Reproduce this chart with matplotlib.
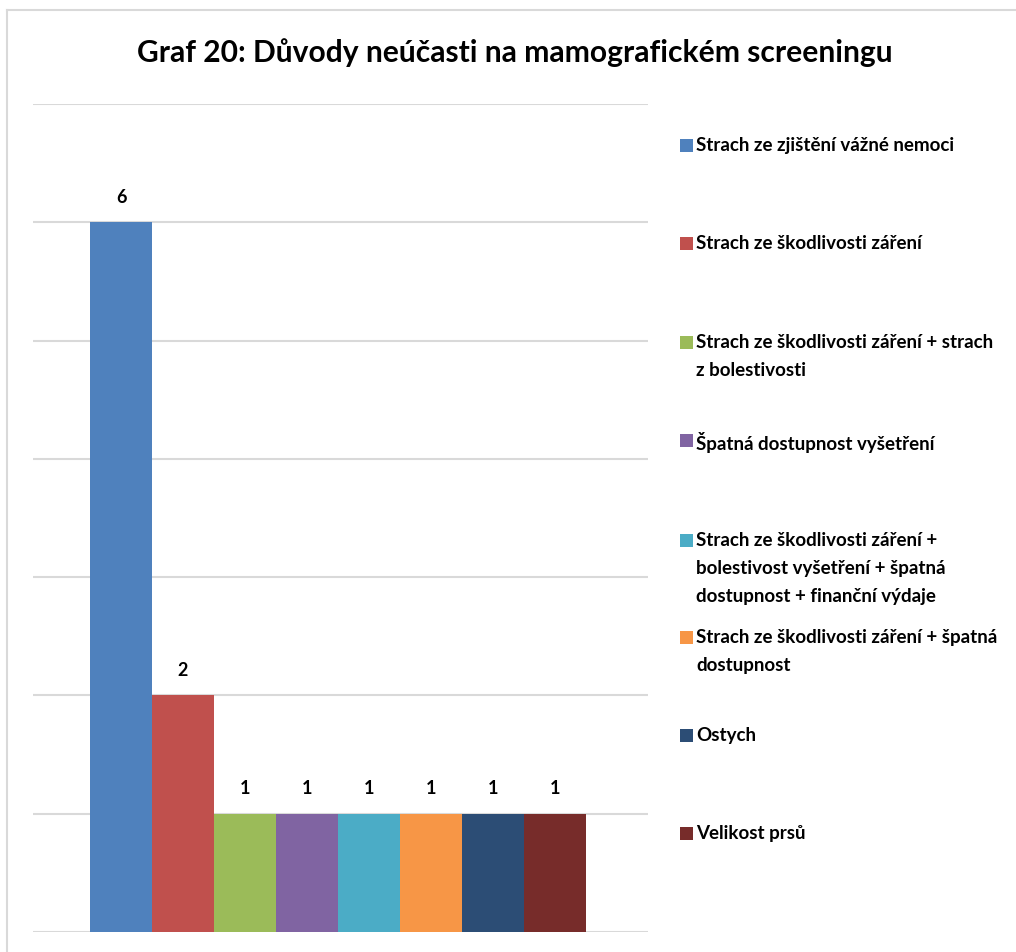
import matplotlib
matplotlib.use("Agg")
import matplotlib.pyplot as plt
from matplotlib.lines import Line2D
from matplotlib.patches import Rectangle

title = "Graf 20: Důvody neúčasti na mamografickém screeningu"
labels = [
    "Strach ze zjištění vážné nemoci",
    "Strach ze škodlivosti záření",
    "Strach ze škodlivosti záření + strach\nz bolestivosti",
    "Špatná dostupnost vyšetření",
    "Strach ze škodlivosti záření +\nbolestivost vyšetření + špatná\ndostupnost + finanční výdaje",
    "Strach ze škodlivosti záření + špatná\ndostupnost",
    "Ostych",
    "Velikost prsů",
]
values = [6, 2, 1, 1, 1, 1, 1, 1]
colors = ["#4F81BD", "#C0504D", "#9BBB59", "#8064A2", "#4BACC6", "#F79646", "#2C4D75", "#772C2A"]

W, H = 1016, 952
fig = plt.figure(figsize=(W / 100, H / 100), dpi=100)
FONT = "Lato"

# chart border
fig.add_artist(Line2D([7 / W, 1.0], [1 - 10 / H, 1 - 10 / H], color="#D9D9D9", lw=1.5))
fig.add_artist(Line2D([7 / W, 7 / W], [1 - 10 / H, 0], color="#D9D9D9", lw=1.5))

ax = fig.add_axes([33 / W, 20 / H, 615 / W, 828 / H])
x = list(range(len(values)))
ax.bar(x, values, width=1.0, color=colors, zorder=3)
for xi, v in zip(x, values):
    ax.annotate(str(v), (xi, v), xytext=(0, 18), textcoords="offset points",
                ha="center", va="center", fontsize=13, fontweight="bold",
                family=FONT, color="black")
ax.set_xlim(-1.42, 8.5)
ax.set_ylim(0, 7)
ax.set_yticks(range(0, 8))
ax.yaxis.grid(True, color="#D9D9D9", lw=1.5, zorder=0)
ax.tick_params(left=False, bottom=False, labelleft=False, labelbottom=False)
for s in ["left", "right", "top", "bottom"]:
    ax.spines[s].set_visible(False)

fig.text(515 / W, 1 - 53 / H, title, ha="center", va="center", fontsize=21.6,
         fontweight="bold", family=FONT, color="black")

# legend (manual, square aligned with first text line)
y_first = [145, 243, 342, 440, 540, 637, 735, 833]
for lab, col, yy in zip(labels, colors, y_first):
    fig.add_artist(Rectangle((680 / W, 1 - (yy + 6.5) / H), 13 / W, 13 / H,
                             facecolor=col, edgecolor="none"))
    fig.text(696 / W, 1 - (yy - 8) / H, lab, ha="left", va="top", fontsize=13.5,
             fontweight="bold", family=FONT, color="black", linespacing=1.8)

fig.savefig("out.png", dpi=100)
